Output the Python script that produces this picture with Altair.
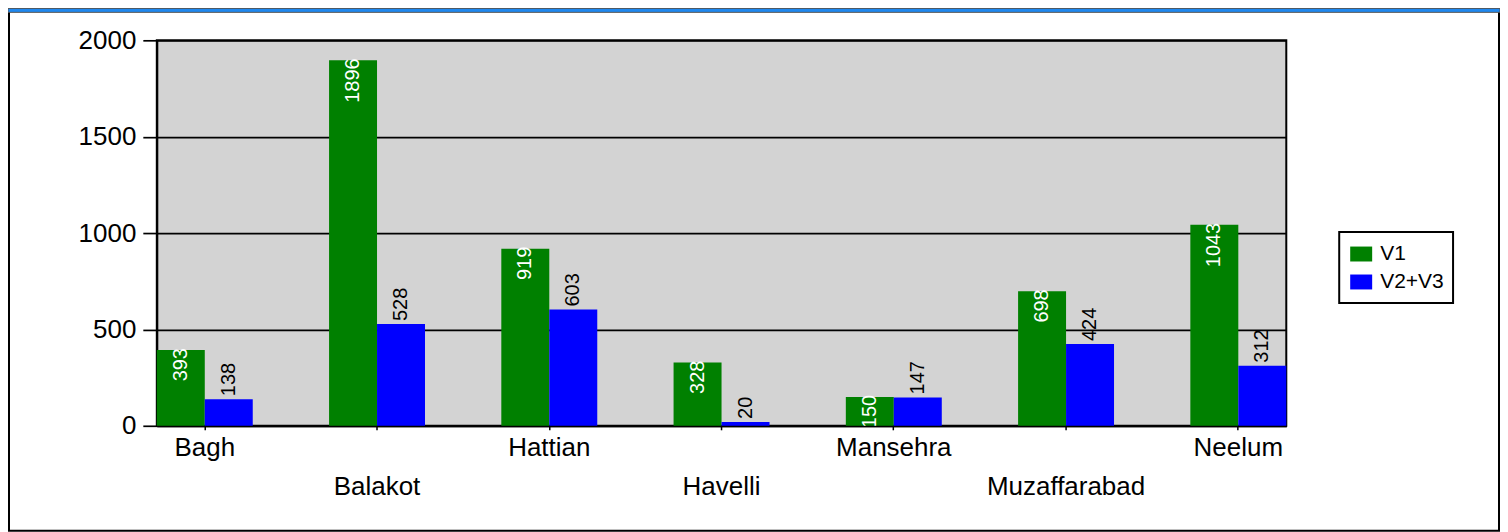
import altair as alt
import pandas as pd

categories = ["Bagh", "Balakot", "Hattian", "Havelli", "Mansehra", "Muzaffarabad", "Neelum"]
v1 = [393, 1896, 919, 328, 150, 698, 1043]
v23 = [138, 528, 603, 20, 147, 424, 312]
series = ["V1", "V2+V3"]
label_row = [0, 1, 0, 1, 0, 1, 0]
y_ticks = [0, 500, 1000, 1500, 2000]

rows = []
for c, a, b in zip(categories, v1, v23):
    rows.append({"category": c, "series": series[0], "value": a})
    rows.append({"category": c, "series": series[1], "value": b})
df = pd.DataFrame(rows)
lab = pd.DataFrame({"category": categories, "row": label_row})

FONT = "Liberation Sans"

x_enc = alt.X(
    "category:N",
    sort=categories,
    scale=alt.Scale(paddingInner=0.443, paddingOuter=0),
    axis=alt.Axis(title=None, labels=False, ticks=True, tickSize=4, tickColor="black",
                  tickWidth=1.5, domainColor="black", domainWidth=2, grid=False),
)
y_enc = alt.Y(
    "value:Q",
    scale=alt.Scale(domain=[0, 2000], nice=False),
    axis=alt.Axis(title=None, values=y_ticks, format="d", grid=True, gridColor="black",
                  gridWidth=1.7, gridOpacity=1, labelFontSize=26, labelColor="black",
                  tickSize=14, tickColor="black", tickWidth=1.7, labelPadding=7,
                  domainColor="black", domainWidth=2, labelFont=FONT),
)
xo = alt.XOffset("series:N", scale=alt.Scale(domain=series, paddingInner=0, paddingOuter=0))

bars = alt.Chart(df).mark_bar().encode(
    x=x_enc, y=y_enc, xOffset=xo,
    color=alt.Color(
        "series:N",
        scale=alt.Scale(domain=series, range=["#008000", "#0000ff"]),
        legend=alt.Legend(
            title=None, orient="none", legendX=1184, legendY=192,
            padding=11, labelFontSize=21,
            labelFont=FONT, labelColor="black", symbolType="M-1,-0.68H1V0.68H-1Z",
            symbolSize=484, symbolStrokeWidth=0, symbolOpacity=1, labelOffset=8,
            rowPadding=7,
        ),
    ),
)

green_txt = alt.Chart(df).transform_filter(alt.datum.series == series[0]).mark_text(
    angle=270, align="right", baseline="middle", color="white", fontSize=20,
    font=FONT, dx=2, clip=True,
).encode(x=x_enc, y=y_enc, xOffset=xo, text=alt.Text("value:Q"))

blue_txt = alt.Chart(df).transform_filter(alt.datum.series == series[1]).mark_text(
    angle=270, align="left", baseline="middle", color="black", fontSize=20,
    font=FONT, dx=3,
).encode(x=x_enc, y=y_enc, xOffset=xo, text=alt.Text("value:Q"))

row0 = alt.Chart(lab).transform_filter(alt.datum.row == 0).mark_text(
    fontSize=26, font=FONT, color="black", baseline="middle", align="center"
).encode(x=x_enc, y=alt.value(408), text="category:N")
row1 = alt.Chart(lab).transform_filter(alt.datum.row == 1).mark_text(
    fontSize=26, font=FONT, color="black", baseline="middle", align="center"
).encode(x=x_enc, y=alt.value(447), text="category:N")

one = pd.DataFrame({"a": [0]})
frame = alt.Chart(one).mark_rect(fill="white", fillOpacity=0, stroke="black", strokeWidth=2).encode(
    x=alt.value(-148), x2=alt.value(1344), y=alt.value(-31), y2=alt.value(491)
)
legend_box = alt.Chart(one).mark_rect(fill="white", fillOpacity=0, stroke="black", strokeWidth=2).encode(
    x=alt.value(1184), x2=alt.value(1298), y=alt.value(192), y2=alt.value(263)
)
strip = alt.Chart(one).mark_rect(fill="#1e88f0", stroke="#555555", strokeWidth=1).encode(
    x=alt.value(-149), x2=alt.value(1345), y=alt.value(-32), y2=alt.value(-28)
)

chart = alt.layer(bars, green_txt, blue_txt, row0, row1, frame, legend_box, strip).properties(
    width=1131, height=386,
    autosize=alt.AutoSizeParams(type="none"),
    padding={"left": 149, "top": 32, "right": 214, "bottom": 106},
    background="white",
).configure(font=FONT).configure_view(fill="#d3d3d3", stroke="black", strokeWidth=2)

chart.save("out.html", embed_options={"renderer": "svg", "actions": False})
